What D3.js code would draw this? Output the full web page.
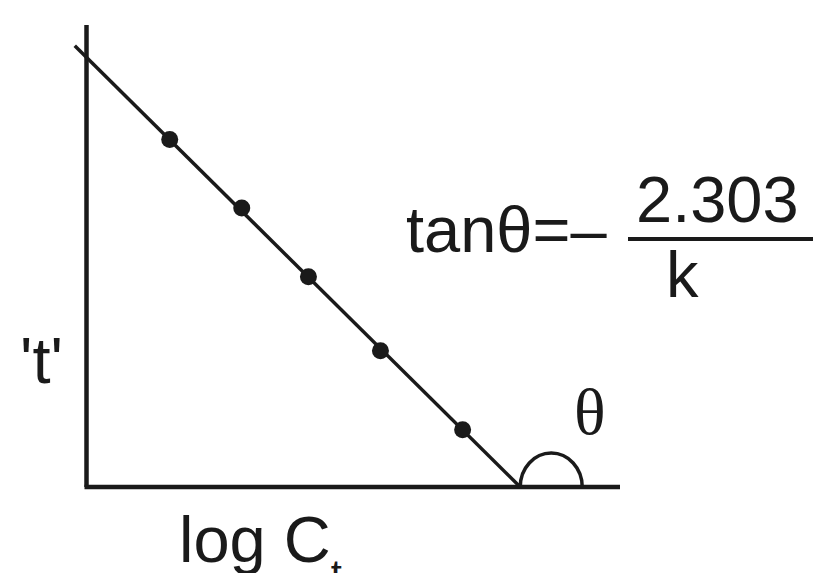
<!DOCTYPE html>
<html>
<head>
<meta charset="utf-8">
<script src="https://cdn.jsdelivr.net/npm/d3@7"></script>
<style>
  body { margin: 0; background: #fff; }
  svg { display: block; }
</style>
</head>
<body>
<div id="chart"></div>
<script>
// measured points (log Ct, t), arbitrary units
var logC = [1.56, 2.91, 4.16, 5.51, 7.05];
var tVals = [7.52, 6.04, 4.55, 2.95, 1.24];
// fitted straight line ends
var lineX = [-0.22, 8.13];
var lineY = [9.55, 0];

var W = 814, H = 573;
var ox = 86.5, oy = 487;

var svg = d3.select("#chart").append("svg")
  .attr("width", W)
  .attr("height", H);

var x = d3.scaleLinear().domain([0, 10]).range([ox, 620]);
var y = d3.scaleLinear().domain([0, 10]).range([oy, 25]);

var ink = "#1a1a1a";

// axes
svg.append("line")
  .attr("x1", x(0)).attr("y1", y(0))
  .attr("x2", x(0)).attr("y2", y(10))
  .attr("stroke", ink).attr("stroke-width", 4.5);
svg.append("line")
  .attr("x1", x(0) - 2).attr("y1", y(0))
  .attr("x2", x(10)).attr("y2", y(0))
  .attr("stroke", ink).attr("stroke-width", 4.5);

// the line
svg.append("path")
  .datum(d3.zip(lineX, lineY))
  .attr("d", d3.line().x(function(d){ return x(d[0]); }).y(function(d){ return y(d[1]); }))
  .attr("fill", "none")
  .attr("stroke", ink)
  .attr("stroke-width", 3.5);

svg.selectAll(".dot")
  .data(d3.zip(logC, tVals))
  .enter()
  .append("circle")
    .attr("class", "dot")
    .attr("cx", function(d){ return x(d[0]); })
    .attr("cy", function(d){ return y(d[1]); })
    .attr("r", 8.5)
    .attr("fill", ink);

// angle mark
var ax = x(lineX[1]);
svg.append("path")
  .attr("d", "M" + ax + "," + y(0) + " A31,34 0 0 1 " + (ax + 62) + "," + y(0))
  .attr("fill", "none")
  .attr("stroke", ink)
  .attr("stroke-width", 3.5);

svg.append("text")
  .attr("x", 574).attr("y", 434)
  .attr("font-family", "'Liberation Serif', 'DejaVu Serif', serif")
  .attr("font-size", 66)
  .attr("fill", ink)
  .text("θ");

// equation
var sans = "'Liberation Sans', Arial, sans-serif";
svg.append("text")
  .attr("x", 406).attr("y", 252)
  .attr("font-family", sans).attr("font-size", 65).attr("fill", ink)
  .text("tanθ=–");
svg.append("text")
  .attr("x", 636).attr("y", 222)
  .attr("font-family", sans).attr("font-size", 65).attr("fill", ink)
  .text("2.303");
svg.append("line")
  .attr("x1", 628).attr("y1", 239)
  .attr("x2", 813).attr("y2", 239)
  .attr("stroke", ink).attr("stroke-width", 4);
svg.append("text")
  .attr("x", 666).attr("y", 297)
  .attr("font-family", sans).attr("font-size", 65).attr("fill", ink)
  .text("k");

// axis titles
svg.append("text")
  .attr("x", 20).attr("y", 383)
  .attr("font-family", sans).attr("font-size", 65).attr("fill", ink)
  .text("'t'");

var xt = svg.append("text")
  .attr("x", 179).attr("y", 562)
  .attr("font-family", sans).attr("font-size", 65).attr("fill", ink);
xt.append("tspan").text("log C");
xt.append("tspan").attr("font-size", 40).attr("dy", 26).text("t");
</script>
</body>
</html>
